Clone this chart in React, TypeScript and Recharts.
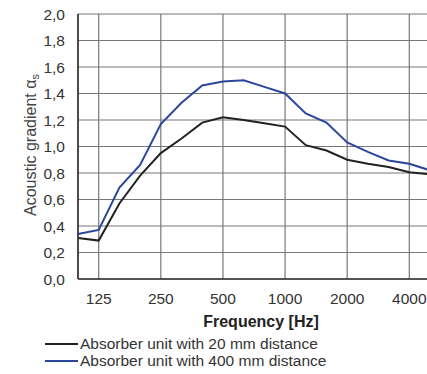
import React from 'react';
import {LineChart, Line, XAxis, YAxis, CartesianGrid, Legend} from 'recharts';

const freqs = [100, 125, 160, 200, 250, 315, 400, 500, 630, 800, 1000, 1250, 1600, 2000, 2500, 3150, 4000, 5000];
const dist20 = [0.31, 0.29, 0.57, 0.78, 0.95, 1.06, 1.18, 1.22, 1.2, 1.175, 1.15, 1.01, 0.97, 0.9, 0.87, 0.845, 0.805, 0.79];
const dist400 = [0.34, 0.37, 0.69, 0.86, 1.17, 1.33, 1.46, 1.49, 1.5, 1.45, 1.4, 1.25, 1.18, 1.03, 0.96, 0.895, 0.87, 0.82];
const xTicks = [1, 4, 7, 10, 13, 16];
const yTicks = [0, 0.2, 0.4, 0.6, 0.8, 1.0, 1.2, 1.4, 1.6, 1.8, 2.0];

const data = freqs.map((f, i) => ({i, f, d20: dist20[i], d400: dist400[i]}));

const FONT = '"Liberation Sans", Arial, sans-serif';

const LegendBox = (props: any) => {
    const {payload} = props;
    return (
        <div style={{fontFamily: FONT, fontSize: 15.5, color: '#333', lineHeight: '17px'}}>
            {payload.map((p: any) => (
                <div key={p.value} style={{display: 'flex', alignItems: 'center'}}>
                    <span style={{display: 'inline-block', width: 33, height: 2, background: p.color, marginRight: 2}} />
                    <span>{p.value}</span>
                </div>
            ))}
        </div>
    );
}

const App = () => {
    return (
        <div style={{position: 'absolute', left: 0, top: 0, width: 427, height: 374, overflow: 'hidden', background: '#fff'}}>
            <LineChart width={432} height={374} data={data} margin={{top: 14, right: 2, bottom: 31, left: 0}}>
                <CartesianGrid stroke="#777" strokeWidth={1.2} />
                <XAxis dataKey="i" type="number" domain={[0, 17]} ticks={xTicks} interval={0}
                       tickFormatter={(v: number) => String(freqs[v])}
                       tickLine={false} axisLine={{stroke: '#333', strokeWidth: 1.6}}
                       tick={{fill: '#333', fontSize: 15.5, fontFamily: FONT}} tickMargin={8} height={30} />
                <YAxis type="number" domain={[0, 2]} ticks={yTicks} interval={0} width={78}
                       tickFormatter={(v: number) => v.toFixed(1).replace('.', ',')}
                       tickLine={false} axisLine={{stroke: '#333', strokeWidth: 1.6}}
                       tick={{fill: '#333', fontSize: 15.5, fontFamily: FONT}} tickMargin={7} />
                <Line type="linear" dataKey="d20" name="Absorber unit with 20 mm distance" stroke="#222"
                      strokeWidth={2} dot={false} isAnimationActive={false} />
                <Line type="linear" dataKey="d400" name="Absorber unit with 400 mm distance" stroke="#2b479c"
                      strokeWidth={2} dot={false} isAnimationActive={false} />
                <Legend content={<LegendBox />} wrapperStyle={{left: 45, top: 335, width: 330}} />
                <text x={261} y={327} textAnchor="middle" fontFamily={FONT} fontSize={16} fontWeight="bold" fill="#222">
                    Frequency [Hz]
                </text>
                <text transform="translate(32,145) rotate(-90)" textAnchor="middle" dominantBaseline="middle"
                      fontFamily={FONT} fontSize={16} fill="#444">
                    Acoustic gradient α<tspan fontSize={11} dy={4}>s</tspan>
                </text>
            </LineChart>
        </div>
    );
}

export default App;
